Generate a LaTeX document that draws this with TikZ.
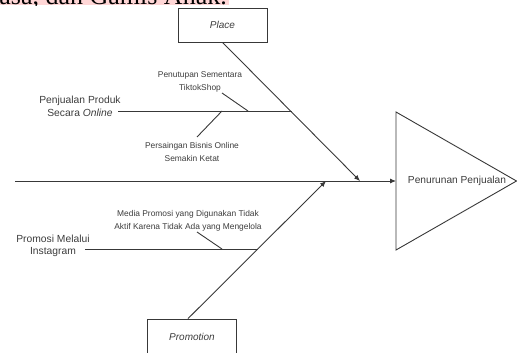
\documentclass[tikz,border=0pt]{standalone}
\usepackage{fontspec}
\setmainfont{Liberation Sans}
\newfontfamily\docfont{Liberation Serif}
\usetikzlibrary{arrows.meta}
\definecolor{garis}{HTML}{383838}
\definecolor{teks}{HTML}{3C3C3C}
\definecolor{sorot}{HTML}{FFD6D6}
\tikzset{
  tulang/.style={draw=garis, line width=0.9pt},
  panah/.style={tulang, -{Latex[length=6pt,width=5pt]}},
  kotak/.style={draw=garis, line width=0.8pt, minimum width=89pt, minimum height=34pt,
    inner sep=0pt, text=teks, font=\fontsize{10}{12}\selectfont\itshape},
  kecil/.style={align=center, inner sep=0pt, text=teks, font=\fontsize{8.4}{13}\selectfont},
  sebab/.style={align=center, inner sep=0pt, text=teks, font=\fontsize{10.3}{12.5}\selectfont},
}
\begin{document}
\begin{tikzpicture}[x=1pt,y=-1pt]
\useasboundingbox (0,0) rectangle (517,353);
% sisa baris teks di atas
\begin{scope}
\clip (0,0) rectangle (517,6);
\fill[sorot] (0,0) rectangle (229,5.5);
\node[anchor=base east, inner sep=0pt, font=\docfont\fontsize{26}{30}\selectfont] (judul) at (227,4.3) {asa, dan Gamis Anak.};
\end{scope}
% kepala ikan
\coordinate (segA) at (396,112);
\coordinate (segB) at (516.5,181);
\coordinate (segC) at (396,250);
\draw[tulang] (segA) -- (segB) -- (segC) -- cycle;
\node[sebab, font=\fontsize{10.2}{12}\selectfont] (akibat) at (457,181) {Penurunan Penjualan};
% tulang utama
\coordinate (ekor) at (15,181);
\coordinate (masuk) at (396,181);
\draw[panah] (ekor) -- (masuk);
% kategori
\node[kotak] (place) at (222.5,25) {Place};
\node[kotak, minimum height=36pt] (promo) at (192,337) {Promotion};
\coordinate (tipP) at (360,181);
\coordinate (tipM) at (326,181);
\draw[panah] (place.south) -- (tipP);
\draw[panah] ([xshift=-4pt]promo.north) -- (tipM);
% cabang atas
\node[sebab] (produk) at (80,106.5) {Penjualan Produk\\Secara \textit{Online}};
\coordinate (pA0) at (118,111);
\coordinate (pA1) at (291.5,111);
\draw[tulang] (pA0) -- (pA1);
\node[kecil] (tutup) at (200,81.5) {Penutupan Sementara\\TiktokShop};
\coordinate (tA0) at (222,93);
\coordinate (tA1) at (248,111);
\draw[tulang] (tA0) -- (tA1);
\node[kecil] (saing) at (192,151.5) {Persaingan Bisnis Online\\Semakin Ketat};
\coordinate (sA0) at (197,137);
\coordinate (sA1) at (222,111);
\draw[tulang] (sA0) -- (sA1);
% cabang bawah
\node[sebab] (promosi) at (53,246) {Promosi Melalui\\Instagram};
\coordinate (pB0) at (85,249);
\coordinate (pB1) at (258,249);
\draw[tulang] (pB0) -- (pB1);
\node[kecil] (media) at (188,220.5) {Media Promosi yang Digunakan Tidak\\Aktif Karena Tidak Ada yang Mengelola};
\coordinate (mB0) at (197,232);
\coordinate (mB1) at (222,249);
\draw[tulang] (mB0) -- (mB1);
\end{tikzpicture}
\end{document}
